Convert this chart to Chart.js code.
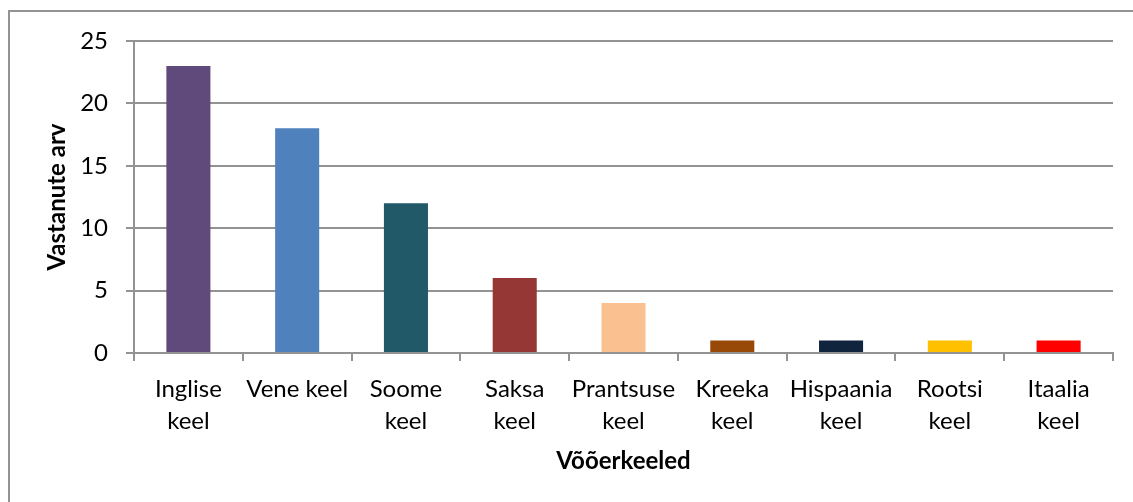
<!DOCTYPE html>
<html>
<head>
<meta charset="utf-8">
<script src="https://cdn.jsdelivr.net/npm/chart.js@4/dist/chart.umd.min.js"></script>
<style>
  html, body { margin: 0; padding: 0; background: #ffffff; }
  #wrap { width: 1133px; height: 502px; position: relative; }
</style>
</head>
<body>
<div id="wrap"><canvas id="c" width="1133" height="502"></canvas></div>
<script>
const categories = [
  ["Inglise", "keel"],
  "Vene keel",
  ["Soome", "keel"],
  ["Saksa", "keel"],
  ["Prantsuse", "keel"],
  ["Kreeka", "keel"],
  ["Hispaania", "keel"],
  ["Rootsi", "keel"],
  ["Itaalia", "keel"]
];
const respondents = [23, 18, 12, 6, 4, 1, 1, 1, 1];
const barColors = ["#604A7B", "#4F81BD", "#215968", "#953735", "#FAC090", "#984807", "#10243E", "#FFC000", "#FF0000"];
const yTicks = [0, 5, 10, 15, 20, 25];
const xTitle = "Võõerkeeled";
const yTitle = "Vastanute arv";

const FONT = "Lato, Carlito, Calibri, 'Open Sans', sans-serif";
const GRID = "#939393";

const frame = {
  id: 'frame',
  beforeDraw(chart) {
    const ctx = chart.ctx;
    ctx.save();
    ctx.fillStyle = '#ffffff';
    ctx.fillRect(0, 0, chart.width, chart.height);
    ctx.strokeStyle = GRID;
    ctx.lineWidth = 2;
    ctx.beginPath();
    ctx.moveTo(9, chart.height + 5);
    ctx.lineTo(9, 11);
    ctx.lineTo(chart.width + 5, 11);
    ctx.stroke();
    ctx.restore();
  }
};

new Chart(document.getElementById('c'), {
  type: 'bar',
  data: {
    labels: categories,
    datasets: [{
      data: respondents,
      backgroundColor: barColors,
      borderWidth: 0,
      categoryPercentage: 1.0,
      barPercentage: 0.405
    }]
  },
  options: {
    responsive: false,
    animation: false,
    events: [],
    layout: { padding: { left: 0, right: 20, top: 41, bottom: 0 } },
    plugins: { legend: { display: false }, tooltip: { enabled: false } },
    scales: {
      x: {
        offset: true,
        grid: { display: true, drawOnChartArea: false, drawTicks: true, tickLength: 8, color: GRID, lineWidth: 2, offset: true },
        border: { display: true, color: GRID, width: 2 },
        ticks: { color: '#000000', font: { family: FONT, size: 24, lineHeight: '32px' }, padding: 12, maxRotation: 0, minRotation: 0, autoSkip: false },
        title: { display: true, text: xTitle, color: '#000000', font: { family: FONT, size: 24, weight: 'bold' }, padding: { top: 0, bottom: 26 } },
        afterFit(scale) { scale.height = 149; }
      },
      y: {
        min: 0, max: 25,
        afterBuildTicks(scale) { scale.ticks = yTicks.map(v => ({ value: v })); },
        grid: { color: GRID, lineWidth: 2, tickLength: 8, drawTicks: true },
        border: { display: true, color: GRID, width: 2 },
        ticks: { color: '#000000', font: { family: FONT, size: 24 }, padding: 18 },
        title: { display: true, text: yTitle, color: '#000000', font: { family: FONT, size: 24, weight: 'bold' }, padding: { top: 43, bottom: 0 } },
        afterFit(scale) { scale.width = 134; }
      }
    }
  },
  plugins: [frame]
});
</script>
</body>
</html>
